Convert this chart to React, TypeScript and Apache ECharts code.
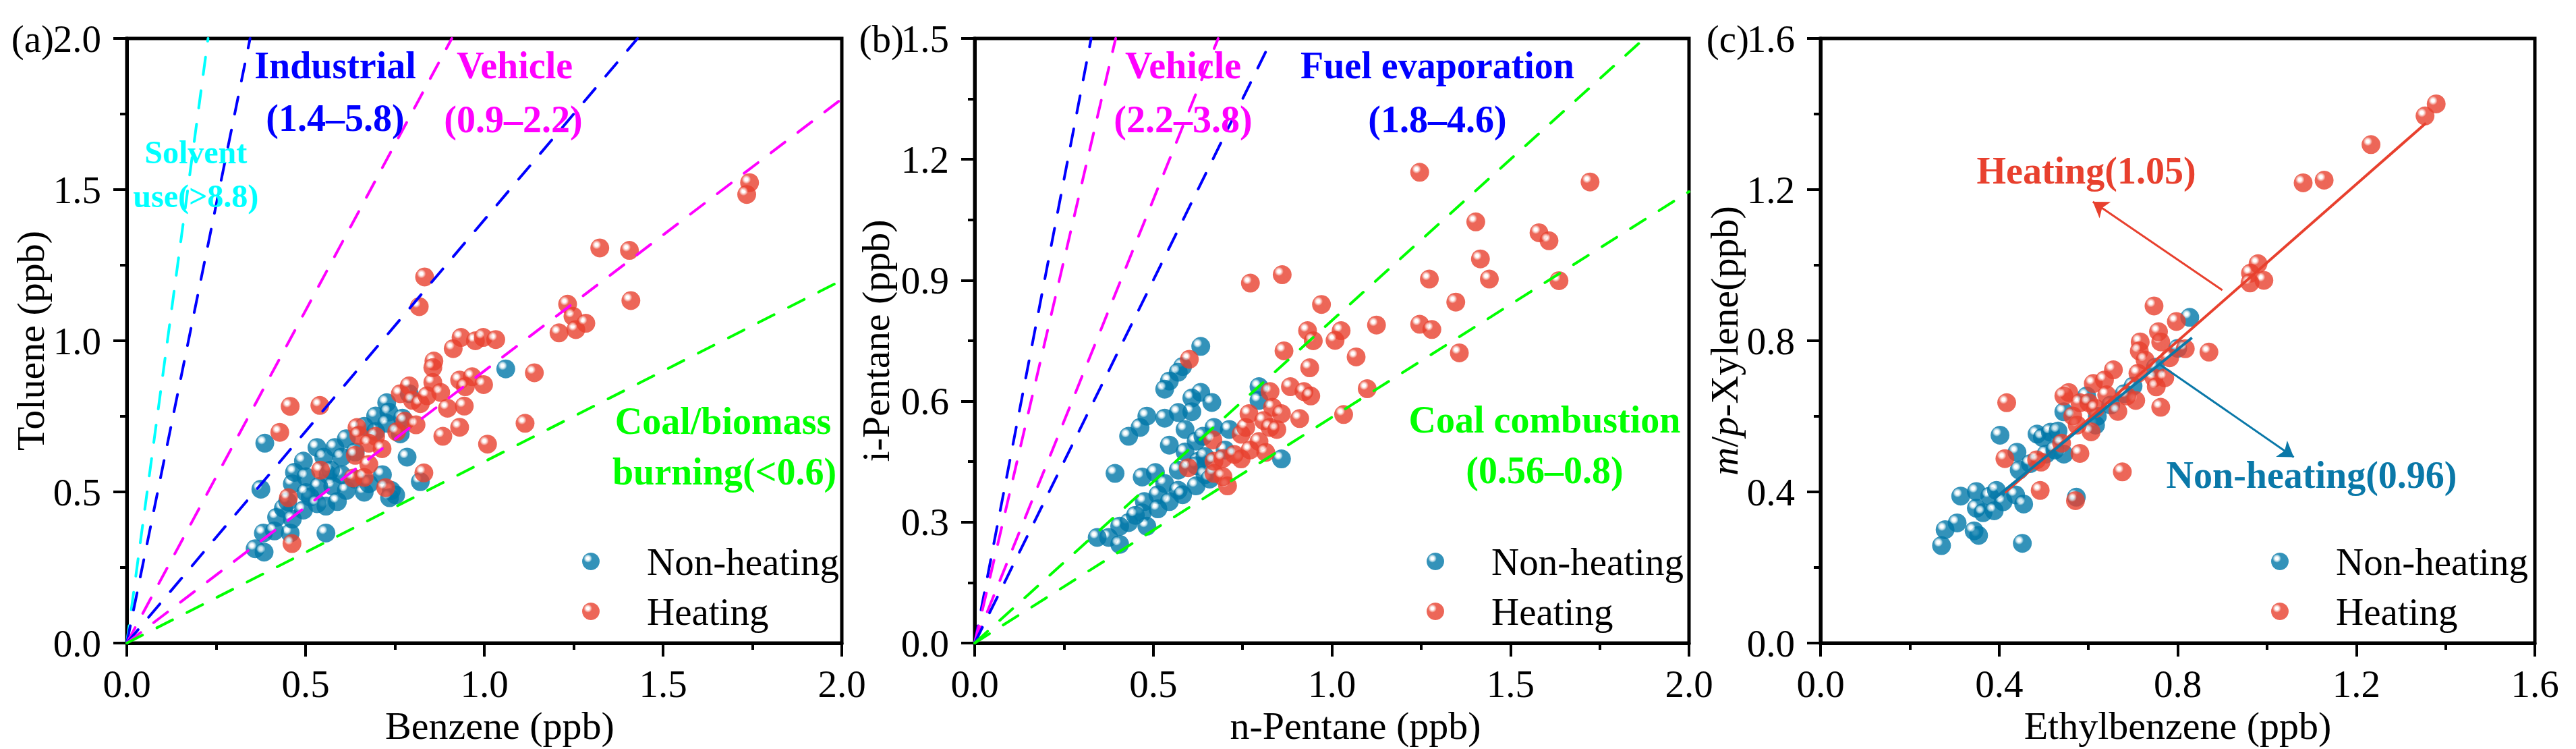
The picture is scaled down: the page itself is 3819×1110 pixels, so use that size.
import * as echarts from "echarts";
import { useEffect, useRef } from "react";

// ---------- data ----------
// (a) Benzene vs Toluene
const benzeneNonHeating = [0.386, 0.375, 0.359, 0.384, 0.382, 0.419, 0.438, 0.457, 0.463, 0.469, 0.494, 0.501, 0.513, 0.532, 0.551, 0.563, 0.582, 0.601, 0.576, 0.557, 0.557, 0.614, 0.614, 0.639, 0.696, 0.727, 0.733, 0.696, 0.790, 0.784, 0.821, 0.752, 0.740, 0.715, 1.060, 0.664, 0.501, 0.532, 0.589, 0.639, 0.664, 0.765, 0.771, 0.727, 0.494, 0.463, 0.537, 0.601, 0.570, 0.677, 0.413, 0.450, 0.735];
const tolueneNonHeating = [0.661, 0.509, 0.312, 0.301, 0.364, 0.416, 0.446, 0.364, 0.527, 0.565, 0.602, 0.550, 0.483, 0.647, 0.615, 0.557, 0.647, 0.615, 0.519, 0.453, 0.364, 0.676, 0.505, 0.542, 0.751, 0.795, 0.764, 0.700, 0.825, 0.615, 0.534, 0.490, 0.505, 0.557, 0.907, 0.499, 0.498, 0.461, 0.468, 0.632, 0.717, 0.692, 0.744, 0.727, 0.440, 0.410, 0.518, 0.557, 0.572, 0.527, 0.371, 0.468, 0.481];
const benzeneHeating = [0.457, 0.540, 0.428, 0.542, 0.452, 0.462, 0.644, 0.649, 0.696, 0.677, 0.714, 0.639, 0.677, 0.633, 0.664, 0.724, 0.831, 0.755, 0.778, 0.809, 0.765, 0.790, 0.799, 0.821, 0.840, 0.856, 0.878, 0.897, 0.884, 0.931, 0.944, 1.009, 1.114, 0.931, 0.966, 0.998, 0.947, 0.859, 0.856, 0.913, 0.935, 0.975, 0.997, 1.032, 1.140, 0.833, 0.818, 1.323, 1.406, 1.410, 1.742, 1.734, 1.233, 1.248, 1.209, 1.256, 1.284];
const tolueneHeating = [0.783, 0.786, 0.697, 0.572, 0.481, 0.329, 0.713, 0.687, 0.684, 0.661, 0.643, 0.621, 0.591, 0.546, 0.548, 0.514, 0.563, 0.699, 0.734, 0.722, 0.825, 0.851, 0.803, 0.792, 0.818, 0.862, 0.829, 0.777, 0.684, 0.714, 0.784, 0.658, 0.727, 0.870, 0.881, 0.855, 0.848, 0.933, 0.911, 0.974, 1.011, 1.000, 1.011, 1.004, 0.894, 1.211, 1.113, 1.307, 1.299, 1.133, 1.523, 1.484, 1.121, 1.081, 1.026, 1.037, 1.058];

// (b) n-Pentane vs i-Pentane
const nPentaneNonHeating = [0.633, 0.582, 0.570, 0.545, 0.532, 0.633, 0.608, 0.664, 0.608, 0.570, 0.532, 0.482, 0.463, 0.431, 0.589, 0.545, 0.670, 0.713, 0.620, 0.589, 0.701, 0.626, 0.796, 0.796, 0.859, 0.393, 0.469, 0.506, 0.532, 0.570, 0.620, 0.645, 0.513, 0.570, 0.620, 0.475, 0.469, 0.482, 0.431, 0.406, 0.375, 0.343, 0.406, 0.513, 0.545, 0.582, 0.658, 0.450, 0.639, 0.645];
const iPentaneNonHeating = [0.736, 0.686, 0.672, 0.650, 0.630, 0.622, 0.608, 0.597, 0.574, 0.572, 0.558, 0.563, 0.535, 0.513, 0.530, 0.491, 0.535, 0.530, 0.501, 0.474, 0.479, 0.451, 0.636, 0.602, 0.457, 0.421, 0.412, 0.423, 0.396, 0.429, 0.440, 0.418, 0.368, 0.379, 0.390, 0.351, 0.323, 0.290, 0.299, 0.290, 0.262, 0.262, 0.245, 0.333, 0.351, 0.368, 0.407, 0.317, 0.513, 0.463];
const nPentaneHeating = [0.601, 0.598, 0.667, 0.670, 0.708, 0.670, 0.695, 0.746, 0.759, 0.768, 0.746, 0.771, 0.796, 0.815, 0.809, 0.827, 0.834, 0.859, 0.884, 0.922, 0.910, 0.941, 0.827, 0.846, 0.866, 0.932, 0.948, 0.938, 0.727, 0.695, 1.246, 1.723, 0.772, 0.861, 0.971, 1.026, 1.009, 1.125, 1.068, 1.099, 1.033, 1.403, 1.416, 1.441, 1.273, 1.580, 1.608, 1.636, 1.347, 1.246, 1.280, 1.357];
const iPentaneHeating = [0.704, 0.435, 0.504, 0.421, 0.390, 0.451, 0.458, 0.518, 0.535, 0.569, 0.457, 0.479, 0.500, 0.473, 0.552, 0.624, 0.585, 0.569, 0.636, 0.624, 0.557, 0.613, 0.535, 0.530, 0.725, 0.775, 0.750, 0.683, 0.468, 0.413, 1.168, 1.144, 0.893, 0.914, 0.840, 0.775, 0.751, 0.789, 0.710, 0.631, 0.567, 1.045, 0.953, 0.903, 0.903, 1.018, 0.998, 0.899, 0.846, 0.791, 0.778, 0.720];

// (c) Ethylbenzene vs m/p-Xylene
const ethylbenzeneNonHeating = [0.827, 0.402, 0.452, 0.271, 0.279, 0.306, 0.314, 0.349, 0.349, 0.354, 0.364, 0.344, 0.379, 0.394, 0.409, 0.437, 0.455, 0.389, 0.445, 0.440, 0.470, 0.485, 0.497, 0.515, 0.532, 0.545, 0.545, 0.505, 0.525, 0.616, 0.596, 0.573, 0.620, 0.650, 0.700, 0.750, 0.800, 0.680];
const xyleneNonHeating = [0.862, 0.550, 0.264, 0.258, 0.300, 0.318, 0.389, 0.401, 0.357, 0.285, 0.345, 0.297, 0.389, 0.404, 0.374, 0.392, 0.368, 0.350, 0.458, 0.505, 0.475, 0.553, 0.544, 0.558, 0.561, 0.612, 0.500, 0.500, 0.511, 0.577, 0.654, 0.386, 0.600, 0.630, 0.680, 0.730, 0.780, 0.660];
const ethylbenzeneHeating = [0.417, 0.413, 0.492, 0.571, 0.676, 0.494, 0.484, 0.581, 0.540, 0.556, 0.545, 0.606, 0.575, 0.565, 0.581, 0.601, 0.616, 0.611, 0.636, 0.656, 0.641, 0.666, 0.706, 0.686, 0.716, 0.714, 0.727, 0.747, 0.752, 0.762, 0.762, 0.757, 0.797, 0.747, 0.817, 0.782, 0.870, 0.711, 0.771, 1.081, 1.128, 1.233, 1.354, 1.379, 0.980, 0.963, 0.993, 0.962];
const xyleneHeating = [0.636, 0.488, 0.404, 0.377, 0.453, 0.479, 0.485, 0.502, 0.529, 0.663, 0.654, 0.559, 0.577, 0.601, 0.636, 0.636, 0.621, 0.687, 0.696, 0.723, 0.657, 0.613, 0.642, 0.654, 0.797, 0.773, 0.749, 0.702, 0.678, 0.624, 0.797, 0.824, 0.851, 0.892, 0.779, 0.755, 0.770, 0.714, 0.702, 1.218, 1.225, 1.319, 1.395, 1.427, 1.004, 0.979, 0.960, 0.953];

// diagnostic ratio lines
const ratiosA = [8.8, 5.8, 2.2, 1.4, 0.9, 0.6];
const ratioColorsA = ["#00FFFF", "#0000FF", "#FF00FF", "#0000FF", "#FF00FF", "#00FF00"];
const ratiosB = [4.6, 3.8, 2.2, 1.8, 0.8, 0.56];
const ratioColorsB = ["#0000FF", "#FF00FF", "#FF00FF", "#0000FF", "#00FF00", "#00FF00"];

// fitted lines and arrows in (c)
const heatingFit = [[0.413, 0.398], [1.356, 1.376]];
const nonHeatingFit = [[0.388, 0.381], [0.832, 0.808]];
const heatingArrow = [[0.9, 0.934], [0.61, 1.168]];
const nonHeatingArrow = [[0.758, 0.739], [1.06, 0.492]];

const SERIF = '"Liberation Serif", "Times New Roman", serif';
const RED = "#E8402E";
const BLUE = "#0077A8";
const TEAL = "#0A78A8";
const GRID_TOP = 57;
const GRID_H = 896;
const gridLefts = [188, 1445, 2699];
const gridWidths = [1060, 1059, 1059];
const legendIconX = [876, 2128, 3380];

const sphere = (base: string, halo: string) =>
  new echarts.graphic.RadialGradient(0.33, 0.33, 0.75, [
    { offset: 0, color: "#ffffff" },
    { offset: 0.11, color: "#ffffff" },
    { offset: 0.22, color: halo },
    { offset: 0.32, color: base },
    { offset: 1, color: base },
  ]);

const zip = (xs: number[], ys: number[]) => xs.map((x, i) => [x, ys[i]]);

function App() {
  const ref = useRef<HTMLDivElement | null>(null);

  useEffect(() => {
    document.body.style.margin = "0";
    if (!ref.current) return;
    const chart = echarts.init(ref.current, null, { renderer: "svg" });

    const axisCommon = (gi: number) => ({
      gridIndex: gi,
      type: "value" as const,
      axisLine: { show: true, onZero: false, lineStyle: { color: "#000", width: 5 } },
      axisTick: { show: true, inside: false, length: 20, lineStyle: { color: "#000", width: 4 } },
      minorTick: { show: true, splitNumber: 2, length: 10, lineStyle: { color: "#000", width: 4 } },
      splitLine: { show: false },
      nameLocation: "middle" as const,
    });

    const xAxes = [
      { max: 2, interval: 0.5, name: "Benzene (ppb)", pad: 46 },
      { max: 2, interval: 0.5, name: "n-Pentane (ppb)", pad: 70 },
      { max: 1.6, interval: 0.4, name: "Ethylbenzene (ppb)", pad: 0 },
    ].map((a, gi) => ({
      ...axisCommon(gi),
      min: 0,
      max: a.max,
      interval: a.interval,
      name: a.name,
      nameGap: 72,
      nameTextStyle: { fontFamily: SERIF, fontSize: 58, color: "#000", padding: [0, 0, 0, a.pad] },
      axisLabel: { margin: 32, fontFamily: SERIF, fontSize: 57, color: "#000", formatter: (v: number) => v.toFixed(1) },
    }));

    const yAxes = [
      { max: 2, interval: 0.5, name: "Toluene (ppb)", gap: 107 },
      { max: 1.5, interval: 0.3, name: "i-Pentane (ppb)", gap: 118 },
      { max: 1.6, interval: 0.4, name: "{i|m}/{i|p}-Xylene(ppb)", gap: 112 },
    ].map((a, gi) => ({
      ...axisCommon(gi),
      min: 0,
      max: a.max,
      interval: a.interval,
      name: a.name,
      nameGap: a.gap,
      nameTextStyle: {
        fontFamily: SERIF,
        fontSize: 58,
        color: "#000",
        rich: { i: { fontFamily: SERIF, fontSize: 58, fontStyle: "italic", color: "#000" } },
      },
      axisLabel: { margin: 38, fontFamily: SERIF, fontSize: 57, color: "#000", formatter: (v: number) => v.toFixed(1) },
    }));

    const grids = gridLefts.map((left, gi) => ({
      left,
      top: GRID_TOP,
      width: gridWidths[gi],
      height: GRID_H,
      show: true,
      borderColor: "#000",
      borderWidth: 5,
      backgroundColor: "transparent",
    }));

    const scatterPair = (gi: number, bx: number[], by: number[], rx: number[], ry: number[]) => [
      {
        name: "Non-heating",
        type: "scatter",
        xAxisIndex: gi,
        yAxisIndex: gi,
        symbolSize: 28,
        itemStyle: { color: sphere(BLUE, "#9CCBDD") },
        data: zip(bx, by),
        z: 2,
      },
      {
        name: "Heating",
        type: "scatter",
        xAxisIndex: gi,
        yAxisIndex: gi,
        symbolSize: 28,
        itemStyle: { color: sphere(RED, "#F4A89E") },
        data: zip(rx, ry),
        z: 3,
      },
    ];

    const ratioLines = (gi: number, ratios: number[], colors: string[], xMax: number, yMax: number) =>
      ratios.map((r, k) => {
        const xe = Math.min(xMax, yMax / r);
        return {
          type: "line",
          xAxisIndex: gi,
          yAxisIndex: gi,
          symbol: "none",
          silent: true,
          z: 5,
          lineStyle: { color: colors[k], width: 4, type: [26, 24], cap: "round" },
          data: [[0, 0], [xe, xe * r]],
        };
      });

    const fitLine = (data: number[][], color: string) => ({
      type: "line",
      xAxisIndex: 2,
      yAxisIndex: 2,
      symbol: "none",
      silent: true,
      z: 5,
      lineStyle: { color, width: 4 },
      data,
    });

    const arrow = (coords: number[][], color: string) => ({
      type: "lines",
      coordinateSystem: "cartesian2d",
      xAxisIndex: 2,
      yAxisIndex: 2,
      symbol: ["none", "arrow"],
      symbolSize: 22,
      silent: true,
      z: 5,
      lineStyle: { color, width: 3, opacity: 1 },
      data: [{ coords }],
    });

    const series = [
      ...scatterPair(0, benzeneNonHeating, tolueneNonHeating, benzeneHeating, tolueneHeating),
      ...ratioLines(0, ratiosA, ratioColorsA, 2, 2),
      ...scatterPair(1, nPentaneNonHeating, iPentaneNonHeating, nPentaneHeating, iPentaneHeating),
      ...ratioLines(1, ratiosB, ratioColorsB, 2, 1.5),
      ...scatterPair(2, ethylbenzeneNonHeating, xyleneNonHeating, ethylbenzeneHeating, xyleneHeating),
      fitLine(heatingFit, RED),
      fitLine(nonHeatingFit, TEAL),
      arrow(heatingArrow, RED),
      arrow(nonHeatingArrow, TEAL),
    ];

    // the legend box starts at the circle itself, so left = icon centre - radius - padding
    const legends = legendIconX.map((cx) => ({
      left: cx - 13 - 5,
      top: 798,
      orient: "vertical",
      itemWidth: 156,
      itemHeight: 26,
      itemGap: 16,
      symbolKeepAspect: true,
      selectedMode: false,
      data: ["Non-heating", "Heating"],
      textStyle: { fontFamily: SERIF, fontSize: 57, color: "#000", lineHeight: 58 },
    }));

    const label = (text: string, x: number, y: number, fill: string, size = 56, weight = "bold", align = "center") => ({
      type: "text",
      x,
      y,
      silent: true,
      z: 10,
      style: {
        text,
        fill,
        font: `${weight} ${size}px ${SERIF}`,
        align,
        verticalAlign: "middle",
      },
    });

    const graphic = [
      label("(a)", 80, 57, "#000", 57, "normal", "right"),
      label("(b)", 1340, 57, "#000", 57, "normal", "right"),
      label("(c)", 2593, 57, "#000", 57, "normal", "right"),
      label("Industrial", 497, 97, "#0000FF"),
      label("(1.4–5.8)", 497, 175, "#0000FF"),
      label("Vehicle", 763, 97, "#FF00FF"),
      label("(0.9–2.2)", 761, 177, "#FF00FF"),
      label("Solvent", 290, 225, "#00FFFF", 48),
      label("use(>8.8)", 290, 290, "#00FFFF", 48),
      label("Coal/biomass", 1072, 624, "#00FF00"),
      label("burning(<0.6)", 1074, 699, "#00FF00"),
      label("Vehicle", 1754, 97, "#FF00FF"),
      label("(2.2–3.8)", 1754, 177, "#FF00FF"),
      label("Fuel evaporation", 2131, 97, "#0000FF"),
      label("(1.8–4.6)", 2131, 177, "#0000FF"),
      label("Coal combustion", 2290, 622, "#00FF00"),
      label("(0.56–0.8)", 2290, 697, "#00FF00"),
      label("Heating(1.05)", 3093, 253, RED),
      label("Non-heating(0.96)", 3427, 704, TEAL),
    ];

    chart.setOption({
      animation: false,
      backgroundColor: "#fff",
      grid: grids,
      xAxis: xAxes,
      yAxis: yAxes,
      legend: legends,
      series,
      graphic,
    } as any);

    return () => {
      chart.dispose();
    };
  }, []);

  return <div ref={ref} style={{ width: 3819, height: 1110 }} />;
}

export default App;
